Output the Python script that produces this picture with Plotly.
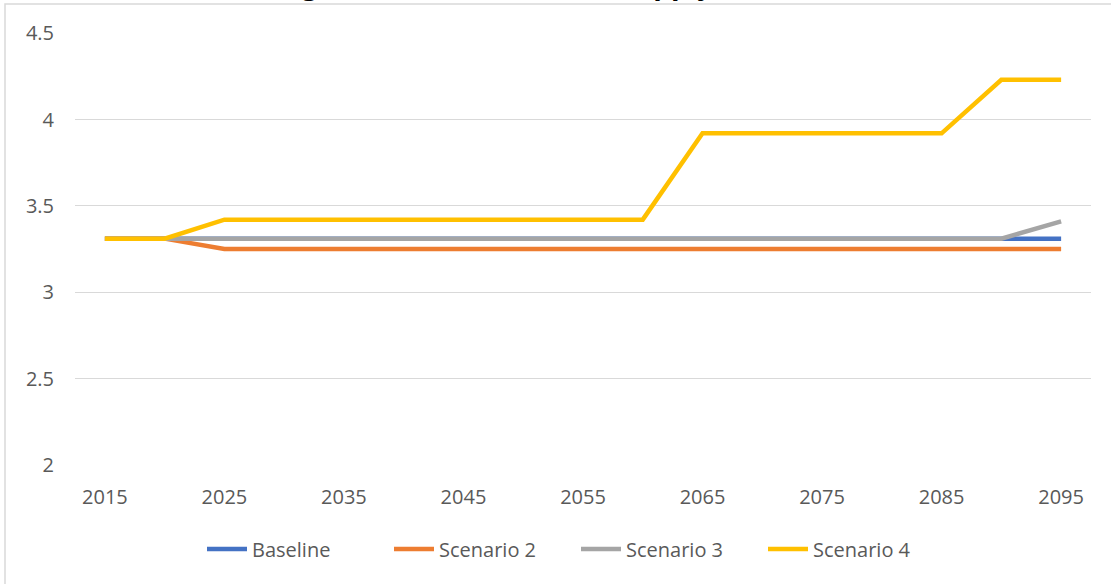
import plotly.graph_objects as go

years = [2015, 2020, 2025, 2030, 2035, 2040, 2045, 2050, 2055, 2060,
         2065, 2070, 2075, 2080, 2085, 2090, 2095]
baseline = [3.31] * 17
scenario2 = [3.31, 3.31] + [3.25] * 15
scenario3 = [3.31] * 16 + [3.41]
scenario4 = [3.31, 3.31] + [3.42] * 8 + [3.92] * 5 + [4.23, 4.23]

series_names = ["Baseline", "Scenario 2", "Scenario 3", "Scenario 4"]
series_values = [baseline, scenario2, scenario3, scenario4]
colors = ["#4472C4", "#ED7D31", "#A5A5A5", "#FFC000"]

x_tick_labels = [2015, 2025, 2035, 2045, 2055, 2065, 2075, 2085, 2095]
y_tick_vals = [2, 2.5, 3, 3.5, 4, 4.5]
title_text = "Average Annual Total Water Supply (inches)"

FONT = "Open Sans"
TXT = "#595959"

fig = go.Figure()
for name, vals, col in zip(series_names, series_values, colors):
    fig.add_trace(go.Scatter(x=years, y=vals, name=name, mode="lines",
                             line=dict(color=col, width=4.5)))

W, H = 1111, 584
L, R, T, B = 75, 20, 33, 119
pw, ph = W - L - R, H - T - B

def px_x(x):
    return (x - L) / pw

def px_y(y):
    return (H - B - y) / ph

fig.update_layout(
    width=W, height=H,
    margin=dict(l=L, r=R, t=T, b=B),
    paper_bgcolor="white", plot_bgcolor="white",
    font=dict(family=FONT, size=20, color=TXT),
    showlegend=True,
    legend=dict(orientation="h", x=px_x(202), xanchor="left",
                y=px_y(549), yanchor="middle",
                font=dict(family=FONT, size=20, color=TXT),
                entrywidth=132, entrywidthmode="pixels",
                itemwidth=40, tracegroupgap=0),
    xaxis=dict(range=[2012.5, 2097.5], tickvals=x_tick_labels,
               showgrid=False, zeroline=False, showline=False,
               ticks="", ticklabelstandoff=18,
               tickfont=dict(family=FONT, size=20, color=TXT)),
    yaxis=dict(range=[1.999, 4.501], tickvals=y_tick_vals,
               showgrid=True, gridcolor="#D9D9D9", gridwidth=1.3,
               zeroline=False, showline=False, ticks="",
               ticklabelstandoff=20,
               tickfont=dict(family=FONT, size=20, color=TXT)),
    shapes=[dict(type="rect", xref="paper", yref="paper",
                 x0=px_x(5), x1=px_x(1300), y0=px_y(700), y1=px_y(4),
                 line=dict(color="#D9D9D9", width=1.5),
                 fillcolor="rgba(0,0,0,0)", layer="below")],
    annotations=[dict(text="<b>" + title_text + "</b>", xref="paper", yref="paper",
                      x=px_x(525), y=px_y(3), xanchor="center", yanchor="bottom",
                      showarrow=False, borderpad=0,
                      font=dict(family=FONT, size=28, color="#000000"))],
)

fig.write_html("out.html")
